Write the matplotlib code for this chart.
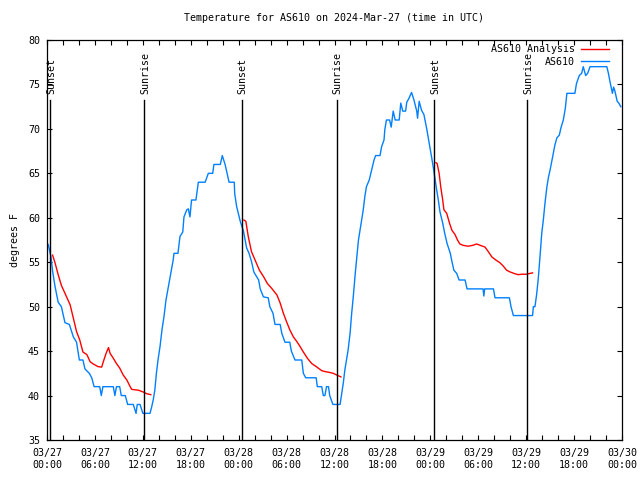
import matplotlib
matplotlib.use("Agg")
import matplotlib.pyplot as plt
from matplotlib.ticker import MultipleLocator, FixedLocator

plt.rcParams['font.family'] = ['DejaVu Sans Mono']

title = "Temperature for AS610 on 2024-Mar-27 (time in UTC)"
ylabel = "degrees F"

# hours since 03/27 00:00 UTC
obs_hours = [0.15, 0.5, 0.7, 1.0, 1.4, 1.8, 2.25, 2.8, 3.3, 3.7, 4.05, 4.5, 4.75, 5.3, 5.6, 5.9,
             6.6, 6.8, 7.0, 8.3, 8.5, 8.7, 9.1, 9.3, 9.8, 10.1, 10.8, 11.15, 11.3, 11.65, 12.0,
             12.9, 13.1, 13.3, 13.5, 13.7, 13.9, 14.15, 14.4, 14.65, 14.9, 15.2, 15.5, 15.8,
             15.9, 16.4, 16.65, 17.0, 17.15, 17.5, 17.7, 17.9, 18.1, 18.65, 18.95, 19.8, 20.2,
             20.75, 20.9, 21.7, 21.95, 22.3, 22.5, 22.8, 23.45, 23.5, 23.75, 24.2, 24.6, 25.0,
             25.3, 25.6, 25.9, 26.5, 26.7, 27.1, 27.7, 27.9, 28.3, 28.55, 29.2, 29.4, 29.8,
             30.4, 30.6, 31.05, 31.9, 32.1, 32.4, 33.7, 33.85, 34.4, 34.6, 34.8, 35.0, 35.25,
             35.4, 35.8, 36.7, 36.9, 37.1, 37.3, 37.5, 37.7, 37.95, 38.15, 38.35, 38.6, 38.8,
             39.0, 39.2, 39.4, 39.6, 39.8, 40.0, 40.35, 40.65, 40.95, 41.15, 41.7, 41.9, 42.2,
             42.3, 42.5, 42.9, 43.1, 43.35, 43.6, 44.1, 44.3, 44.55, 44.9, 45.05, 45.3, 45.65,
             45.95, 46.3, 46.4, 46.6, 46.9, 47.2, 47.55, 47.9, 48.2, 48.4, 48.6, 48.8, 49.0,
             49.2, 49.55, 49.8, 50.1, 50.5, 50.7, 50.95, 51.3, 51.6, 52.35, 52.6, 54.6, 54.7,
             54.8, 55.9, 56.1, 57.9, 58.1, 58.4, 60.8, 60.9, 61.1, 61.3, 61.5, 61.7, 61.95,
             62.15, 62.35, 62.6, 62.8, 63.0, 63.2, 63.4, 63.6, 63.85, 64.15, 64.35, 64.65,
             64.9, 65.1, 66.1, 66.3, 66.65, 66.95, 67.15, 67.45, 67.7, 68.0, 70.1, 70.3, 70.5,
             70.8, 70.95, 71.1, 71.4, 71.6, 71.85]
obs_temp = [57.0, 55.6, 54, 52.3, 50.5, 50, 48.2, 48, 46.6, 46, 44, 44, 43, 42.5, 42, 41,
            41, 40, 41, 41, 40, 41, 41, 40, 40, 39, 39, 38, 39, 39, 38,
            38, 38.7, 39.5, 40.6, 42.5, 44, 45.5, 47.4, 48.9, 50.75, 52.25, 53.8, 55.25,
            56, 56, 57.9, 58.4, 60.1, 60.9, 61, 60.1, 62, 62, 64, 64, 65,
            65, 66, 66, 67, 66, 65.2, 64, 64, 62.75, 61.25, 59.6, 58.5, 56.6,
            56, 55.1, 53.9, 53, 52, 51.1, 51, 50, 49.25, 48, 48, 47, 46,
            46, 45, 44, 44, 42.5, 42, 42, 41, 41, 40, 40, 41, 41,
            40, 39, 39, 40.2, 41.4, 42.9, 44, 45.1, 47, 49.25, 51.1, 53.75, 55.6,
            57.5, 58.6, 59.75, 60.9, 62.4, 63.5, 64.25, 65.4, 66.5, 67, 67, 68, 68.75,
            69.9, 71, 71, 70.2, 72, 71, 71, 72.9, 72, 72, 73, 73.4, 74.1,
            73.25, 72, 71.2, 73.1, 72.1, 71.6, 70.0, 68.2, 66.6, 65.5, 64.3, 63.1, 62,
            60.7, 59.4, 58.25, 57.1, 56, 55.1, 54.1, 53.75, 53, 53, 52, 52, 51.2,
            52, 52, 51, 51, 50, 49, 49, 50, 50, 51.3, 53, 55.25, 58.25,
            59.75, 61.6, 63.5, 64.6, 65.4, 66.3, 67.25, 68.2, 69, 69.3, 70.1, 71,
            72.3, 74, 74, 75.1, 76, 76.25, 77, 76, 76.25, 77, 77, 76.25, 75.3,
            74, 74.7, 74.3, 73.1, 72.9, 72.5]

# analysis: three night segments
ana1_hours = [0.7, 1.0, 1.4, 1.8, 2.25, 2.7, 2.9, 3.3, 3.7, 4.1, 4.5, 5.0, 5.4, 5.8, 6.4, 6.85,
              7.05, 7.4, 7.7, 7.9, 8.3, 8.7, 9.1, 9.55, 10.0, 10.3, 10.6, 11.45, 12.05, 12.5, 13.0]
ana1_temp = [55.8, 54.95, 53.6, 52.4, 51.5, 50.6, 50.2, 48.7, 47.2, 46.25, 44.9, 44.6, 43.8,
             43.55, 43.25, 43.2, 43.8, 44.75, 45.4, 44.75, 44.2, 43.6, 43.1, 42.3, 41.75,
             41.2, 40.7, 40.6, 40.4, 40.2, 40.1]
ana2_hours = [24.65, 24.9, 25.2, 25.6, 26.05, 26.6, 27.1, 27.6, 28.1, 28.8, 29.2, 29.6, 30.0,
              30.4, 30.85, 31.3, 31.7, 32.1, 32.6, 33.15, 33.8, 34.4, 34.8, 35.4, 35.85, 36.3, 36.8]
ana2_temp = [59.75, 59.6, 57.9, 56.2, 55.25, 54.1, 53.4, 52.6, 52.1, 51.3, 50.4, 49.25, 48.3,
             47.4, 46.6, 46.05, 45.5, 44.9, 44.2, 43.6, 43.2, 42.8, 42.7, 42.6, 42.5, 42.3, 42.1]
ana3_hours = [48.7, 48.85, 49.1, 49.3, 49.55, 49.7, 50.05, 50.4, 50.7, 51.1, 51.4, 51.7, 52.1,
              52.75, 53.3, 53.8, 54.25, 54.85, 55.25, 55.7, 56.2, 56.7, 57.1, 57.55, 58.0,
              58.6, 59.0, 59.45, 60.05, 60.5, 60.8]
ana3_temp = [66.2, 66.1, 65.0, 63.5, 62.0, 60.9, 60.5, 59.4, 58.6, 58.1, 57.5, 57.05, 56.9,
             56.8, 56.9, 57.05, 56.9, 56.7, 56.2, 55.6, 55.25, 54.95, 54.6, 54.1, 53.9,
             53.7, 53.6, 53.65, 53.65, 53.75, 53.8]

event_hours = [0.42, 12.19, 24.42, 36.27, 48.5, 60.15]
event_labels = ["Sunset", "Sunrise", "Sunset", "Sunrise", "Sunset", "Sunrise"]

xtick_hours = [0, 6, 12, 18, 24, 30, 36, 42, 48, 54, 60, 66, 72]
xtick_labels = ["03/27\n00:00", "03/27\n06:00", "03/27\n12:00", "03/27\n18:00",
                "03/28\n00:00", "03/28\n06:00", "03/28\n12:00", "03/28\n18:00",
                "03/29\n00:00", "03/29\n06:00", "03/29\n12:00", "03/29\n18:00",
                "03/30\n00:00"]

RED = "#ff0000"
BLUE = "#0080ff"
FS = 7.2

fig = plt.figure(figsize=(6.4, 4.8), dpi=100)
ax = fig.add_axes([47/640, 1-440/480, 575/640, 400/480])

ax.plot(ana1_hours, ana1_temp, color=RED, lw=1.0, label="AS610 Analysis")
ax.plot(ana2_hours, ana2_temp, color=RED, lw=1.0)
ax.plot(ana3_hours, ana3_temp, color=RED, lw=1.0)
ax.plot(obs_hours, obs_temp, color=BLUE, lw=1.0, label="AS610")

for h, lab in zip(event_hours, event_labels):
    ax.plot([h, h], [35, 73.3], color="black", lw=1.0)
    ax.text(h + 0.1, 73.9, lab, rotation=90, ha="center", va="bottom", fontsize=FS)

ax.set_xlim(0, 72)
ax.set_ylim(35, 80)
ax.xaxis.set_major_locator(FixedLocator(xtick_hours))
ax.set_xticklabels(xtick_labels)
ax.xaxis.set_minor_locator(MultipleLocator(2))
ax.yaxis.set_major_locator(MultipleLocator(5))
ax.tick_params(which="both", direction="in", top=True, right=True, length=3.5, width=0.8,
               labelsize=FS)
ax.tick_params(axis="x", pad=6)
ax.tick_params(axis="y", pad=5)
for s in ax.spines.values():
    s.set_linewidth(0.9)

ax.set_title(title, fontsize=FS, pad=14)
ax.set_ylabel(ylabel, fontsize=FS, labelpad=6)

leg = ax.legend(loc="upper right", frameon=False, markerfirst=False, fontsize=FS,
                handlelength=2.8, handletextpad=0.6, labelspacing=0.25,
                borderaxespad=1.0, borderpad=0.3)
leg.set_bbox_to_anchor((1.0, 1.022), transform=ax.transAxes)

fig.savefig("out.png", dpi=100)
